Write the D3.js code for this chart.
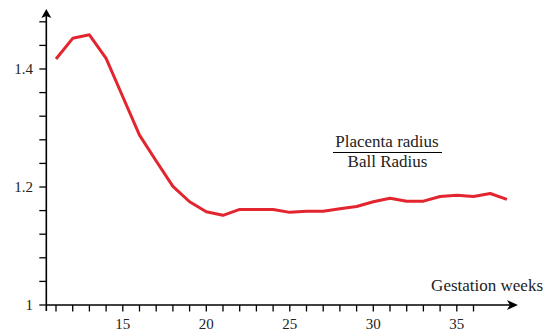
<!DOCTYPE html>
<html>
<head>
<meta charset="utf-8">
<script src="https://cdn.jsdelivr.net/npm/d3@7"></script>
<style>
    body { margin: 0; background: #fff; }
    #chart { width: 544px; height: 333px; }
</style>
</head>
<body>
<div id="chart"></div>
<script>
///// DATOS //////
let weeks = [11, 12, 13, 14, 15, 16, 17, 18, 19, 20, 21, 22, 23, 24, 25, 26, 27, 28, 29, 30, 31, 32, 33, 34, 35, 36, 37, 38];
let ratio = [1.417, 1.452, 1.458, 1.418, 1.353, 1.288, 1.244, 1.201, 1.175, 1.158, 1.152, 1.162, 1.162, 1.162, 1.157, 1.159, 1.159, 1.163, 1.167, 1.175, 1.181, 1.176, 1.176, 1.184, 1.186, 1.184, 1.189, 1.179];
let xTicks = d3.range(11, 37);
let xLabels = [15, 20, 25, 30, 35];
let yTicks = d3.range(0, 13).map(function(i) { return +(1 + i * 0.04).toFixed(2); });
let yLabels = [1, 1.2, 1.4];

let chartBlock = d3.select('#chart');
let width = 544, height = 333;
let lineColor = '#e2252e';
let serif = '"Liberation Serif", "Times New Roman", Times, "DejaVu Serif", serif';

let svg = chartBlock.append('svg')
    .attr('width', width)
    .attr('height', height)
    .style('font-family', serif);

//Escalas
let x = d3.scaleLinear().domain([11, 36]).range([56, 473.5]);
let y = d3.scaleLinear().domain([1, 1.5]).range([305, 10]);

let x0 = x(10.42), xEnd = x(38.6);
let y0 = y(1), yEnd = y(1.5);

//Eje Y
svg.append('line')
    .attr('x1', x0).attr('x2', x0)
    .attr('y1', y0 + 6).attr('y2', yEnd + 6)
    .attr('stroke', '#000').attr('stroke-width', 1.6);

svg.append('path')
    .attr('d', 'M' + x0 + ',' + (yEnd - 1) + 'L' + (x0 - 5) + ',' + (yEnd + 8) + 'L' + x0 + ',' + (yEnd + 6) + 'L' + (x0 + 5) + ',' + (yEnd + 8) + 'Z')
    .attr('fill', '#000');

svg.selectAll('.ytick')
    .data(yTicks)
    .enter()
    .append('line')
    .attr('class', 'ytick')
    .attr('x1', x0 - 7).attr('x2', x0)
    .attr('y1', function(d) { return y(d); })
    .attr('y2', function(d) { return y(d); })
    .attr('stroke', '#000').attr('stroke-width', 1.3);

svg.selectAll('.ylabel')
    .data(yLabels)
    .enter()
    .append('text')
    .attr('class', 'ylabel')
    .attr('x', 33)
    .attr('y', function(d) { return y(d); })
    .attr('dy', '0.34em')
    .attr('text-anchor', 'end')
    .attr('fill', '#222')
    .attr('font-family', serif)
    .style('font-size', '15px')
    .text(function(d) { return d; });

//Eje X
svg.append('line')
    .attr('x1', x0).attr('x2', xEnd - 6)
    .attr('y1', y0).attr('y2', y0)
    .attr('stroke', '#000').attr('stroke-width', 1.6);

svg.append('path')
    .attr('d', 'M' + (xEnd + 1) + ',' + y0 + 'L' + (xEnd - 10) + ',' + (y0 - 5) + 'L' + (xEnd - 7) + ',' + y0 + 'L' + (xEnd - 10) + ',' + (y0 + 5) + 'Z')
    .attr('fill', '#000');

svg.selectAll('.xtick')
    .data(xTicks)
    .enter()
    .append('line')
    .attr('class', 'xtick')
    .attr('x1', function(d) { return x(d); })
    .attr('x2', function(d) { return x(d); })
    .attr('y1', y0).attr('y2', y0 + 6.5)
    .attr('stroke', '#000').attr('stroke-width', 1.3);

svg.selectAll('.xlabel')
    .data(xLabels)
    .enter()
    .append('text')
    .attr('class', 'xlabel')
    .attr('x', function(d) { return x(d); })
    .attr('y', 329)
    .attr('text-anchor', 'middle')
    .attr('fill', '#222')
    .attr('font-family', serif)
    .style('font-size', '15px')
    .text(function(d) { return d; });

svg.append('text')
    .attr('x', 543)
    .attr('y', 291)
    .attr('text-anchor', 'end')
    .attr('fill', '#222')
    .attr('font-family', serif)
    .style('font-size', '17px')
    .text('Gestation weeks');

//Fracción
svg.append('text')
    .attr('x', 387)
    .attr('y', 147)
    .attr('text-anchor', 'middle')
    .attr('fill', '#222')
    .attr('font-family', serif)
    .style('font-size', '17px')
    .text('Placenta radius');

svg.append('line')
    .attr('x1', 333).attr('x2', 442)
    .attr('y1', 152.5).attr('y2', 152.5)
    .attr('stroke', '#000').attr('stroke-width', 1.2);

svg.append('text')
    .attr('x', 387.5)
    .attr('y', 167)
    .attr('text-anchor', 'middle')
    .attr('fill', '#222')
    .attr('font-family', serif)
    .style('font-size', '17px')
    .text('Ball Radius');

//Línea
let line = d3.line()
    .x(function(d, i) { return x(weeks[i]); })
    .y(function(d) { return y(d); });

svg.append('path')
    .datum(ratio)
    .attr('fill', 'none')
    .attr('stroke', lineColor)
    .attr('stroke-width', 3)
    .attr('stroke-linejoin', 'round')
    .attr('d', line);
</script>
</body>
</html>
